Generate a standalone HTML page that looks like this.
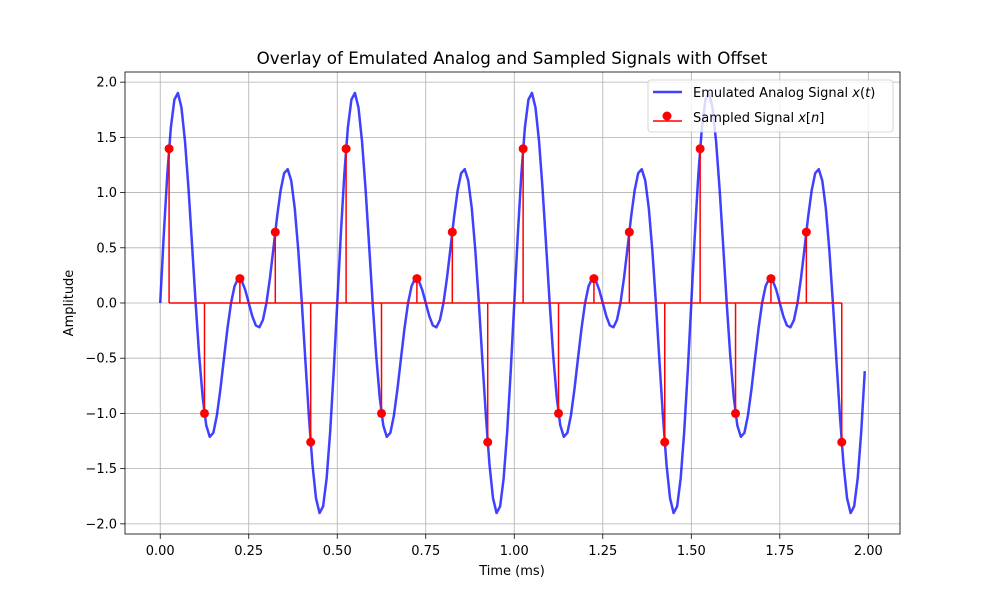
<!DOCTYPE html>
<html><head><meta charset="utf-8"><style>
body{margin:0;background:#fff}
svg{font-family:"DejaVu Sans","Liberation Sans",sans-serif}
</style></head><body>
<svg id="c" width="1000" height="600" xmlns="http://www.w3.org/2000/svg"></svg>
<script>
const analog = [0,0.617,1.166,1.589,1.842,1.902,1.769,1.464,1.030,0.522,0,-0.476,-0.857,-1.108,-1.212,-1.176,-1.019,-0.780,-0.501,-0.228,0,0.154,0.220,0.203,0.119,0,-0.119,-0.203,-0.220,-0.154,0,0.228,0.501,0.780,1.019,1.176,1.212,1.108,0.857,0.476,0,-0.522,-1.030,-1.464,-1.769,-1.902,-1.842,-1.589,-1.166,-0.617,
0,0.617,1.166,1.589,1.842,1.902,1.769,1.464,1.030,0.522,0,-0.476,-0.857,-1.108,-1.212,-1.176,-1.019,-0.780,-0.501,-0.228,0,0.154,0.220,0.203,0.119,0,-0.119,-0.203,-0.220,-0.154,0,0.228,0.501,0.780,1.019,1.176,1.212,1.108,0.857,0.476,0,-0.522,-1.030,-1.464,-1.769,-1.902,-1.842,-1.589,-1.166,-0.617,
0,0.617,1.166,1.589,1.842,1.902,1.769,1.464,1.030,0.522,0,-0.476,-0.857,-1.108,-1.212,-1.176,-1.019,-0.780,-0.501,-0.228,0,0.154,0.220,0.203,0.119,0,-0.119,-0.203,-0.220,-0.154,0,0.228,0.501,0.780,1.019,1.176,1.212,1.108,0.857,0.476,0,-0.522,-1.030,-1.464,-1.769,-1.902,-1.842,-1.589,-1.166,-0.617,
0,0.617,1.166,1.589,1.842,1.902,1.769,1.464,1.030,0.522,0,-0.476,-0.857,-1.108,-1.212,-1.176,-1.019,-0.780,-0.501,-0.228,0,0.154,0.220,0.203,0.119,0,-0.119,-0.203,-0.220,-0.154,0,0.228,0.501,0.780,1.019,1.176,1.212,1.108,0.857,0.476,0,-0.522,-1.030,-1.464,-1.769,-1.902,-1.842,-1.589,-1.166,-0.617];
const sampleTimes = [0.025,0.125,0.225,0.325,0.425,0.525,0.625,0.725,0.825,0.925,1.025,1.125,1.225,1.325,1.425,1.525,1.625,1.725,1.825,1.925];
const sampleValues = [1.397,-1.0,0.221,0.642,-1.260,1.397,-1.0,0.221,0.642,-1.260,1.397,-1.0,0.221,0.642,-1.260,1.397,-1.0,0.221,0.642,-1.260];
const xTicks = [0,0.25,0.5,0.75,1.0,1.25,1.5,1.75,2.0];
const xTickLabels = ["0.00","0.25","0.50","0.75","1.00","1.25","1.50","1.75","2.00"];
const yTicks = [-2,-1.5,-1,-0.5,0,0.5,1,1.5,2];
const yTickLabels = ["−2.0","−1.5","−1.0","−0.5","0.0","0.5","1.0","1.5","2.0"];

const L=125,R=900,T=72,B=534;
const xmin=-0.0995,xmax=2.0895,ymin=-2.092,ymax=2.092;
const X=v=>L+(v-xmin)/(xmax-xmin)*(R-L);
const Y=v=>B-(v-ymin)/(ymax-ymin)*(B-T);
const svg=document.getElementById('c');
const NS='http://www.w3.org/2000/svg';
function mk(tag,attrs,parent){const e=document.createElementNS(NS,tag);for(const k in attrs)e.setAttribute(k,attrs[k]);(parent||svg).appendChild(e);return e;}

xTicks.forEach((t,i)=>{
  const g=mk('line',{x1:X(t),x2:X(t),y1:T,y2:B,stroke:'#b0b0b0','stroke-width':0.8});
  
  
  const tk=mk('line',{x1:X(t),x2:X(t),y1:B,y2:B+4.9,stroke:'#000','stroke-width':0.8});
  
  
  const tx=mk('text',{x:X(t),y:B+21,'text-anchor':'middle','font-size':13});
  tx.textContent=xTickLabels[i];
  
  
});
yTicks.forEach((t,i)=>{
  const g=mk('line',{x1:L,x2:R,y1:Y(t),y2:Y(t),stroke:'#b0b0b0','stroke-width':0.8});
  
  
  const tk=mk('line',{x1:L-4.9,x2:L,y1:Y(t),y2:Y(t),stroke:'#000','stroke-width':0.8});
  
  
  const tx=mk('text',{x:L-8,y:Y(t)+4.5,'text-anchor':'end','font-size':13});
  tx.textContent=yTickLabels[i];
  
  
});

const pts=analog.map((v,i)=>X(i*0.01).toFixed(2)+','+Y(v).toFixed(2)).join(' ');
const pl=mk('polyline',{points:pts,fill:'none',stroke:'#0000ff','stroke-opacity':0.75,'stroke-width':2.5,'stroke-linejoin':'round'});



const base=mk('line',{x1:X(sampleTimes[0]),x2:X(sampleTimes[sampleTimes.length-1]),y1:Y(0),y2:Y(0),stroke:'#ff0000','stroke-width':1.5});


sampleTimes.forEach((t,i)=>{
  const s=mk('line',{x1:X(t),x2:X(t),y1:Y(0),y2:Y(sampleValues[i]),stroke:'#ff0000','stroke-width':1.5});
  
  
});
sampleTimes.forEach((t,i)=>{
  const c=mk('circle',{cx:X(t),cy:Y(sampleValues[i]),r:4.5,fill:'#ff0000'});
  
  
});
</script>
<svg width="1000" height="600" style="position:absolute;left:0;top:0" xmlns="http://www.w3.org/2000/svg" font-family="DejaVu Sans, Liberation Sans, sans-serif">
<rect x="125" y="72" width="775" height="462" fill="none" stroke="#000" stroke-width="0.8"/>
<text x="512" y="64" text-anchor="middle" font-size="16.7">Overlay of Emulated Analog and Sampled Signals with Offset</text>
<text x="512" y="575" text-anchor="middle" font-size="13">Time (ms)</text>
<text x="73" y="303" text-anchor="middle" font-size="13" transform="rotate(-90 73 303)">Amplitude</text>
<g>
<rect x="648" y="80" width="245" height="52" rx="3" fill="#fff" fill-opacity="0.8" stroke="#cccccc" stroke-width="0.8"/>
<line x1="653" y1="92" x2="682" y2="92" stroke="#0000ff" stroke-opacity="0.75" stroke-width="2.5"/>
<text x="693" y="97" font-size="13">Emulated Analog Signal <tspan font-style="italic">x</tspan>(<tspan font-style="italic">t</tspan>)</text>
<line x1="653" y1="121" x2="682" y2="121" stroke="#ff0000" stroke-width="1.5"/>
<circle cx="667" cy="116" r="4.5" fill="#ff0000"/>
<text x="693" y="122" font-size="13">Sampled Signal <tspan font-style="italic">x</tspan>[<tspan font-style="italic">n</tspan>]</text>
</g>
</svg>
</body></html>
